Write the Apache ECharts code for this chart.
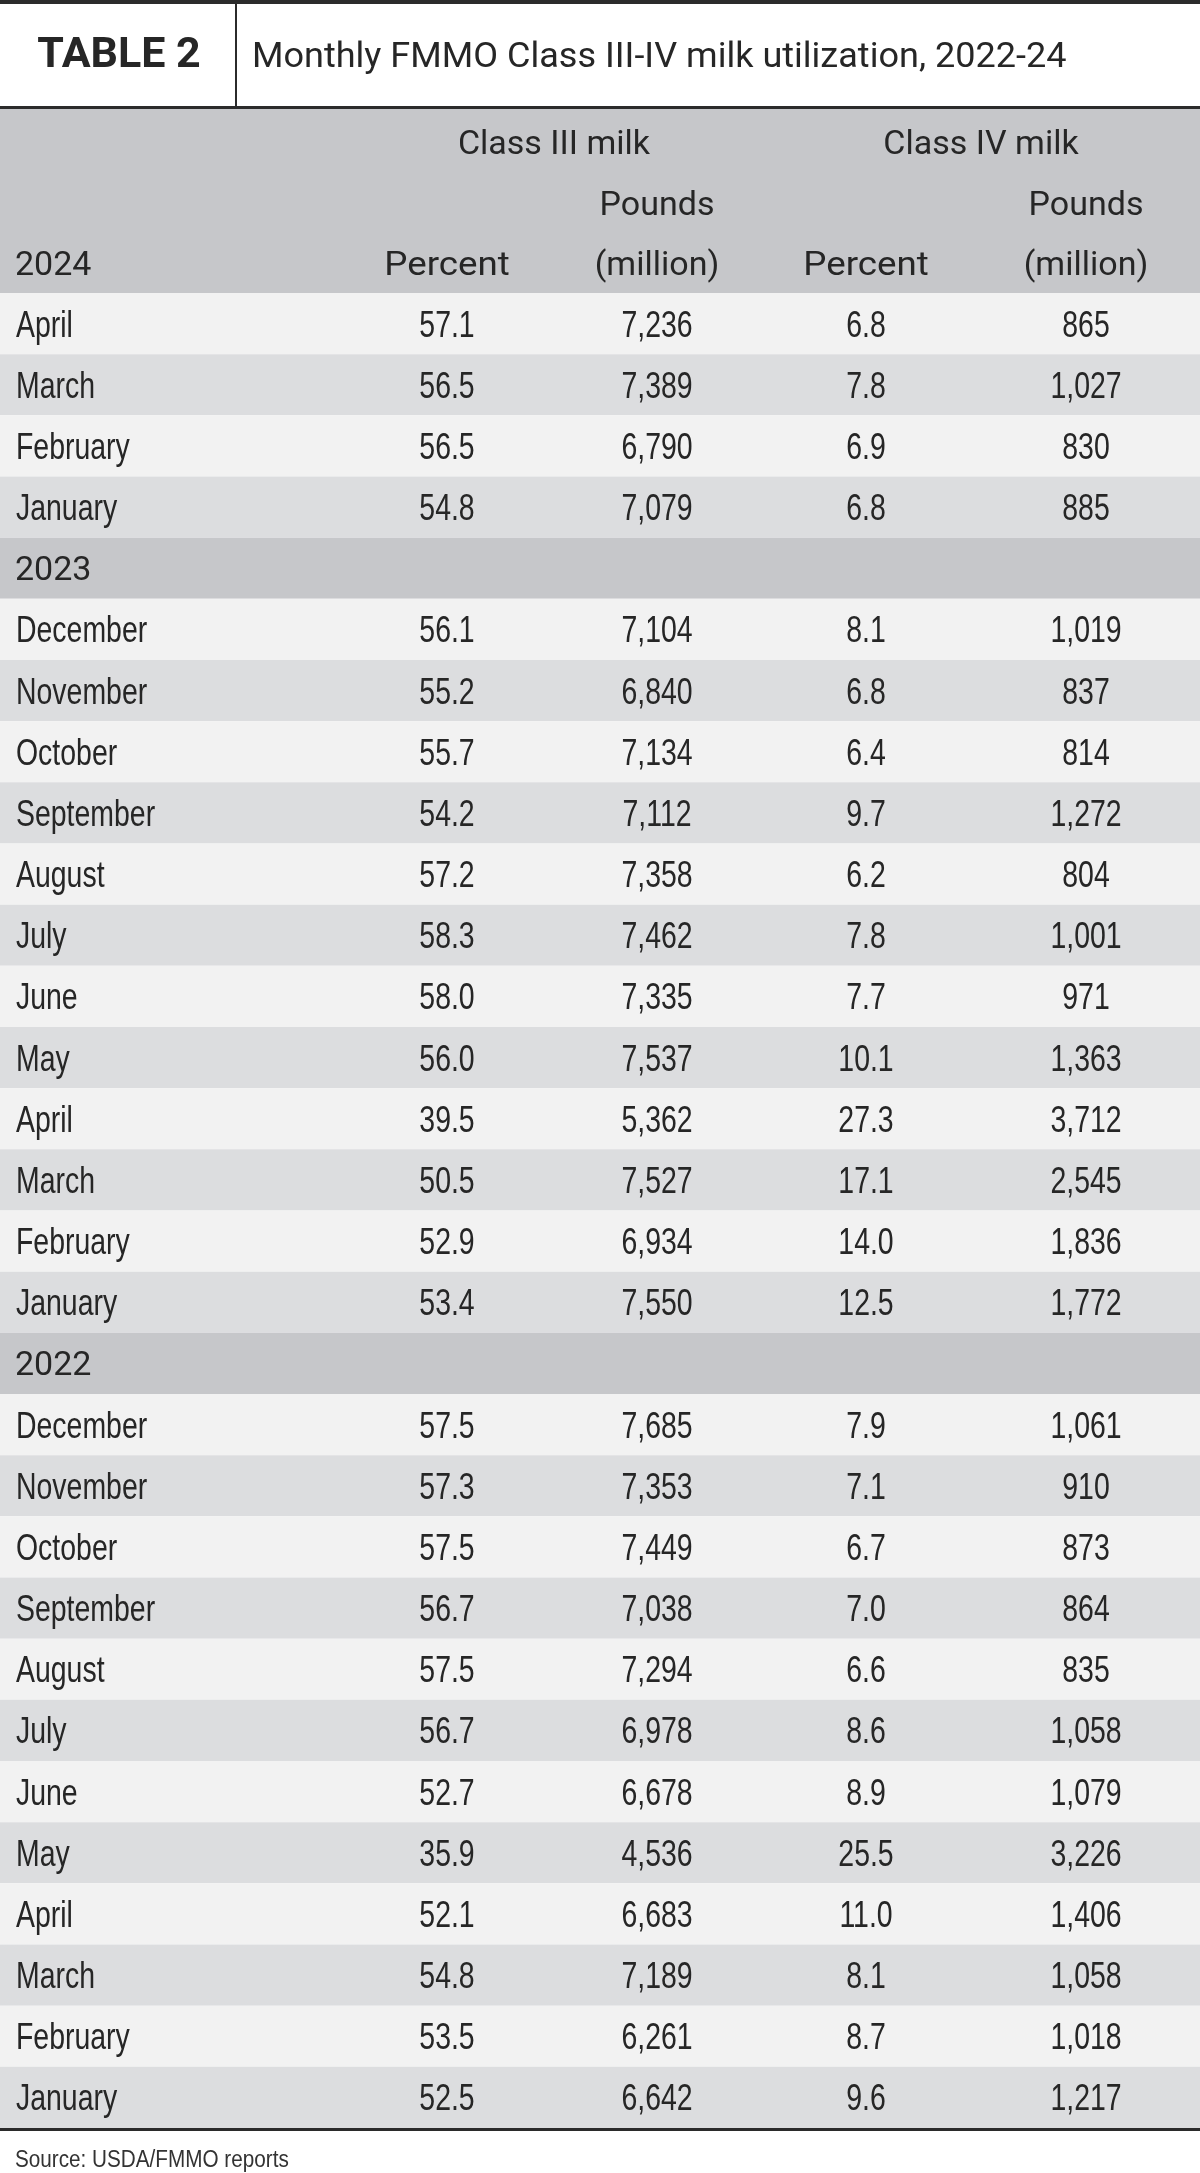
<!DOCTYPE html>
<html>
<head>
<meta charset="utf-8">
<script src="https://cdn.jsdelivr.net/npm/echarts@6/dist/echarts.min.js"></script>
<style>
html,body{margin:0;padding:0;background:#fff;}
#chart{width:1200px;height:2173px;}
</style>
</head>
<body>
<div id="chart"></div>
<script>
// ---- Data ----
const titleLabel = 'TABLE 2';
const titleText = 'Monthly FMMO Class III-IV milk utilization, 2022-24';
const sourceText = 'Source: USDA/FMMO reports';
const groupHeaders = ['Class III milk', 'Class IV milk'];
const columnHeaders = ['Percent', 'Pounds\n(million)', 'Percent', 'Pounds\n(million)'];

const years = ['2024', '2023', '2022'];

const months2024 = ['April', 'March', 'February', 'January'];
const class3Pct2024 = [57.1, 56.5, 56.5, 54.8];
const class3Lbs2024 = [7236, 7389, 6790, 7079];
const class4Pct2024 = [6.8, 7.8, 6.9, 6.8];
const class4Lbs2024 = [865, 1027, 830, 885];

const months2023 = ['December', 'November', 'October', 'September', 'August', 'July', 'June', 'May', 'April', 'March', 'February', 'January'];
const class3Pct2023 = [56.1, 55.2, 55.7, 54.2, 57.2, 58.3, 58.0, 56.0, 39.5, 50.5, 52.9, 53.4];
const class3Lbs2023 = [7104, 6840, 7134, 7112, 7358, 7462, 7335, 7537, 5362, 7527, 6934, 7550];
const class4Pct2023 = [8.1, 6.8, 6.4, 9.7, 6.2, 7.8, 7.7, 10.1, 27.3, 17.1, 14.0, 12.5];
const class4Lbs2023 = [1019, 837, 814, 1272, 804, 1001, 971, 1363, 3712, 2545, 1836, 1772];

const months2022 = ['December', 'November', 'October', 'September', 'August', 'July', 'June', 'May', 'April', 'March', 'February', 'January'];
const class3Pct2022 = [57.5, 57.3, 57.5, 56.7, 57.5, 56.7, 52.7, 35.9, 52.1, 54.8, 53.5, 52.5];
const class3Lbs2022 = [7685, 7353, 7449, 7038, 7294, 6978, 6678, 4536, 6683, 7189, 6261, 6642];
const class4Pct2022 = [7.9, 7.1, 6.7, 7.0, 6.6, 8.6, 8.9, 25.5, 11.0, 8.1, 8.7, 9.6];
const class4Lbs2022 = [1061, 910, 873, 864, 835, 1058, 1079, 3226, 1406, 1058, 1018, 1217];

// ---- Layout / style (not data) ----
const W = 1200;
const BODY_TOP = 293;
const BODY_BOTTOM = 2128;
const COL_X = [447, 657, 866, 1086];
const GROUP_X = [554, 981];
const LABEL_X = 16;
const TEXT = '#262626';
const HEAD_FONT = 'Roboto, "Liberation Sans", sans-serif';
const BODY_FONT = '"Liberation Sans", Arial, sans-serif';
const BODY_SIZE = 36;
const BODY_SCALE = 0.79;
const DY = 3;
const C_LIGHT = '#f2f2f2';
const C_DARK = '#dcdddf';
const C_HEAD = '#c6c7ca';
const LINE = '#2b2b2b';

// build rows
const blocks = [
  {year: years[0], months: months2024, a: class3Pct2024, b: class3Lbs2024, c: class4Pct2024, d: class4Lbs2024, showYearRow: false},
  {year: years[1], months: months2023, a: class3Pct2023, b: class3Lbs2023, c: class4Pct2023, d: class4Lbs2023, showYearRow: true},
  {year: years[2], months: months2022, a: class3Pct2022, b: class3Lbs2022, c: class4Pct2022, d: class4Lbs2022, showYearRow: true}
];
const rows = [];
blocks.forEach(bl => {
  if (bl.showYearRow) rows.push({type: 'year', label: bl.year});
  bl.months.forEach((m, k) => {
    rows.push({type: 'month', label: m, parity: k % 2,
      vals: [bl.a[k].toFixed(1), bl.b[k].toLocaleString('en-US'), bl.c[k].toFixed(1), bl.d[k].toLocaleString('en-US')]});
  });
});

const chart = echarts.init(document.getElementById('chart'), null, {renderer: 'canvas'});

function bodyText(x, y, text, align) {
  return {type: 'text', x: x, y: y, scaleX: BODY_SCALE,
    style: {x: 0, y: 0, text: text, font: BODY_SIZE + 'px ' + BODY_FONT, fill: TEXT, align: align, verticalAlign: 'middle'}};
}
function headText(x, y, text, align, size, scale, weight) {
  return {type: 'text', x: x, y: y, scaleX: scale || 1,
    style: {x: 0, y: 0, text: text, font: (weight ? weight + ' ' : '') + (size || 34) + 'px ' + HEAD_FONT, fill: TEXT, align: align, verticalAlign: 'middle'}};
}

function renderItem(params, api) {
  const i = api.value(0);
  const row = rows[i];
  const c = api.coord([0, i]);
  const c2 = api.coord([W, i]);
  const h = api.size([0, 1])[1];
  const y0 = c[1] - h / 2;
  const children = [];
  const fill = row.type === 'year' ? C_HEAD : (row.parity === 0 ? C_LIGHT : C_DARK);
  children.push({type: 'rect', shape: {x: c[0], y: y0, width: c2[0] - c[0], height: h}, style: {fill: fill}});
  const lx = api.coord([LABEL_X, i])[0];
  if (row.type === 'year') {
    children.push(headText(lx - 1, c[1] + DY, row.label, 'left'));
  } else {
    children.push(bodyText(lx, c[1] + DY, row.label, 'left'));
    row.vals.forEach((v, j) => {
      const x = api.coord([COL_X[j], i])[0];
      children.push(bodyText(x, c[1] + DY, v, 'center'));
    });
  }
  return {type: 'group', children: children};
}

const headerGraphics = [
  {type: 'rect', shape: {x: 0, y: 0, width: W, height: 4}, style: {fill: LINE}},
  {type: 'rect', shape: {x: 235, y: 4, width: 2, height: 103}, style: {fill: LINE}},
  {type: 'rect', shape: {x: 0, y: 106, width: W, height: 3}, style: {fill: LINE}},
  {type: 'rect', shape: {x: 0, y: 109, width: W, height: BODY_TOP - 109}, style: {fill: C_HEAD}},
  headText(119, 56, titleLabel, 'center', 43, 1, 'bold'),
  headText(252, 58, titleText, 'left', 35, 1.03),
  headText(GROUP_X[0], 142 + DY, groupHeaders[0], 'center'),
  headText(GROUP_X[1], 142 + DY, groupHeaders[1], 'center'),
  headText(15, 263 + DY, years[0], 'left'),
  {type: 'rect', shape: {x: 0, y: BODY_BOTTOM - 1, width: W, height: 4}, style: {fill: LINE}},
  {type: 'text', x: 15, y: 2161, scaleX: 0.9,
    style: {x: 0, y: 0, text: sourceText, font: '23px ' + BODY_FONT, fill: '#333333', align: 'left', verticalAlign: 'middle'}}
];
columnHeaders.forEach((t, j) => {
  const parts = t.split('\n');
  if (parts.length === 2) {
    headerGraphics.push(headText(COL_X[j], 203 + DY, parts[0], 'center'));
    headerGraphics.push(headText(COL_X[j], 263 + DY, parts[1], 'center'));
  } else {
    headerGraphics.push(headText(COL_X[j], 263 + DY, parts[0], 'center', 34, 1.08));
  }
});

chart.setOption({
  animation: false,
  backgroundColor: '#ffffff',
  grid: {left: 0, right: 0, top: BODY_TOP, height: BODY_BOTTOM - BODY_TOP, containLabel: false},
  xAxis: {type: 'value', min: 0, max: W, show: false},
  yAxis: {type: 'category', inverse: true, show: false, data: rows.map((r, i) => i)},
  graphic: {elements: headerGraphics},
  series: [{
    type: 'custom',
    renderItem: renderItem,
    data: rows.map((r, i) => [i]),
    encode: {y: 0},
    silent: true
  }]
});
</script>
</body>
</html>
